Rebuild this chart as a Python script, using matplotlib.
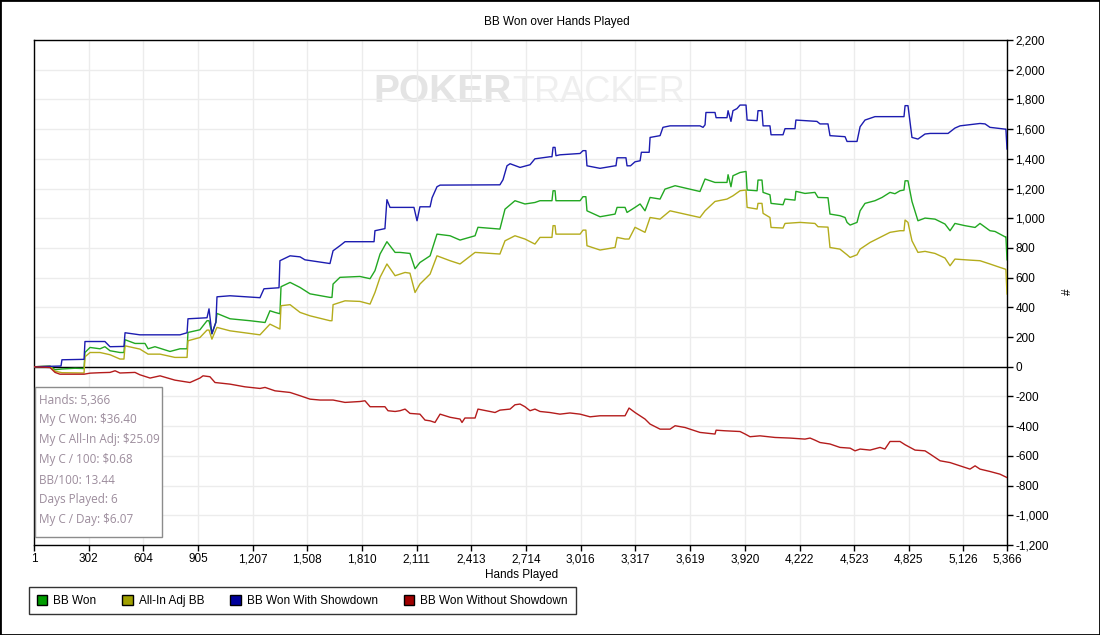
import matplotlib
matplotlib.use("Agg")
import matplotlib.pyplot as plt
from matplotlib.patches import Patch, Rectangle
from matplotlib.ticker import FuncFormatter

# Valores (manos, BB acumulados)
won_hands = [1, 89, 117, 155, 227, 277, 282, 310, 365, 392, 420, 475, 497, 503, 558, 613, 630, 668, 751, 806, 845, 850, 916, 955, 966, 982, 1004, 1010, 1082, 1192, 1275, 1302, 1330, 1357, 1363, 1413, 1468, 1523, 1633, 1644, 1650, 1688, 1798, 1854, 1881, 1909, 1947, 1992, 2019, 2074, 2102, 2129, 2185, 2223, 2295, 2350, 2433, 2449, 2570, 2598, 2653, 2708, 2763, 2791, 2857, 2863, 2874, 2879, 3012, 3028, 3044, 3050, 3122, 3205, 3216, 3260, 3271, 3315, 3343, 3370, 3398, 3453, 3480, 3536, 3673, 3701, 3756, 3822, 3828, 3844, 3855, 3894, 3927, 3933, 3988, 3993, 4015, 4021, 4059, 4065, 4131, 4142, 4197, 4202, 4252, 4307, 4324, 4379, 4390, 4445, 4473, 4484, 4501, 4539, 4556, 4583, 4638, 4677, 4721, 4748, 4776, 4798, 4804, 4820, 4842, 4875, 4914, 4969, 5024, 5052, 5079, 5134, 5190, 5217, 5272, 5300, 5327, 5355, 5360, 5366]
won_bb = [0, 5, -20, -15, -10, -12, 96, 130, 121, 135, 108, 96, 96, 182, 157, 157, 121, 135, 103, 121, 121, 231, 249, 310, 310, 222, 300, 359, 323, 310, 298, 377, 366, 357, 539, 568, 534, 491, 467, 467, 557, 602, 608, 593, 647, 759, 842, 770, 770, 763, 660, 702, 747, 893, 882, 853, 882, 939, 927, 1061, 1118, 1096, 1106, 1118, 1118, 1185, 1185, 1118, 1118, 1145, 1145, 1050, 1010, 1028, 1073, 1073, 1039, 1073, 1096, 1050, 1140, 1129, 1196, 1219, 1180, 1264, 1241, 1241, 1293, 1212, 1286, 1308, 1315, 1190, 1185, 1257, 1257, 1174, 1158, 1100, 1091, 1129, 1122, 1181, 1167, 1174, 1140, 1138, 1028, 1017, 1005, 972, 954, 972, 1050, 1100, 1118, 1140, 1174, 1165, 1185, 1190, 1252, 1252, 1113, 983, 1001, 994, 961, 916, 965, 950, 938, 965, 916, 911, 893, 875, 875, 720]

adj_hands = [1, 89, 117, 155, 277, 282, 310, 365, 420, 475, 497, 503, 585, 630, 696, 778, 845, 850, 916, 955, 966, 982, 1004, 1010, 1082, 1247, 1302, 1357, 1363, 1413, 1468, 1523, 1633, 1644, 1650, 1716, 1798, 1854, 1881, 1909, 1947, 1992, 2047, 2074, 2102, 2129, 2185, 2223, 2295, 2350, 2433, 2570, 2598, 2653, 2708, 2763, 2791, 2857, 2863, 2874, 2879, 3012, 3028, 3044, 3050, 3122, 3205, 3216, 3260, 3282, 3315, 3370, 3398, 3453, 3508, 3673, 3701, 3756, 3822, 3855, 3894, 3927, 3933, 3988, 3993, 4015, 4021, 4059, 4065, 4131, 4142, 4225, 4307, 4324, 4379, 4390, 4445, 4484, 4501, 4539, 4556, 4611, 4666, 4721, 4776, 4798, 4804, 4820, 4842, 4875, 4914, 4969, 5024, 5052, 5079, 5162, 5217, 5272, 5327, 5355, 5360, 5366]
adj_bb = [0, 3, -30, -40, -42, 67, 96, 96, 81, 52, 52, 141, 119, 85, 85, 63, 63, 175, 197, 247, 247, 186, 250, 265, 242, 215, 287, 254, 411, 418, 366, 343, 310, 310, 418, 444, 440, 422, 500, 602, 692, 613, 635, 630, 500, 557, 624, 747, 714, 692, 770, 759, 848, 882, 860, 826, 871, 871, 950, 950, 893, 893, 920, 920, 815, 786, 803, 871, 860, 860, 939, 905, 1005, 994, 1050, 1005, 1050, 1113, 1129, 1151, 1185, 1190, 1073, 1062, 1100, 1100, 1033, 1005, 938, 934, 965, 972, 965, 943, 940, 803, 792, 754, 736, 754, 792, 837, 871, 905, 916, 916, 988, 972, 848, 770, 777, 763, 732, 680, 725, 718, 714, 692, 669, 658, 655, 490]

sd_hands = [1, 150, 155, 277, 282, 392, 420, 497, 503, 585, 806, 845, 850, 955, 966, 982, 1004, 1010, 1082, 1247, 1269, 1352, 1357, 1413, 1468, 1495, 1633, 1650, 1688, 1716, 1876, 1881, 1936, 1947, 1964, 2096, 2113, 2129, 2185, 2196, 2223, 2240, 2570, 2587, 2609, 2626, 2681, 2736, 2763, 2846, 2857, 2863, 2874, 2879, 2901, 3012, 3028, 3044, 3050, 3122, 3205, 3210, 3216, 3265, 3271, 3290, 3315, 3343, 3350, 3393, 3398, 3453, 3469, 3508, 3673, 3690, 3701, 3706, 3756, 3762, 3822, 3828, 3844, 3855, 3877, 3894, 3927, 3933, 3988, 3993, 4015, 4021, 4059, 4065, 4131, 4142, 4197, 4202, 4318, 4335, 4379, 4390, 4473, 4484, 4539, 4556, 4583, 4638, 4798, 4804, 4820, 4842, 4875, 4914, 4942, 5041, 5079, 5107, 5217, 5245, 5272, 5355, 5360, 5366]
sd_bb = [0, 5, 47, 50, 170, 170, 135, 137, 229, 215, 215, 229, 323, 330, 390, 222, 300, 471, 478, 465, 525, 532, 714, 747, 740, 720, 695, 781, 815, 842, 842, 916, 930, 1125, 1073, 1073, 983, 1077, 1077, 1138, 1212, 1223, 1225, 1259, 1353, 1367, 1342, 1360, 1400, 1414, 1414, 1477, 1477, 1421, 1427, 1436, 1455, 1455, 1353, 1336, 1353, 1353, 1407, 1407, 1353, 1353, 1380, 1387, 1444, 1444, 1544, 1556, 1612, 1622, 1622, 1612, 1629, 1712, 1712, 1677, 1677, 1724, 1652, 1724, 1738, 1762, 1762, 1661, 1657, 1724, 1724, 1622, 1622, 1562, 1562, 1603, 1603, 1661, 1652, 1635, 1635, 1556, 1549, 1517, 1517, 1616, 1661, 1684, 1684, 1758, 1758, 1544, 1533, 1567, 1571, 1571, 1607, 1622, 1638, 1635, 1612, 1600, 1600, 1466]

nsd_hands = [1, 89, 117, 144, 277, 310, 365, 420, 448, 475, 558, 585, 641, 696, 778, 861, 916, 933, 971, 999, 1082, 1164, 1247, 1275, 1330, 1413, 1468, 1523, 1578, 1650, 1716, 1798, 1826, 1854, 1936, 1953, 1992, 2019, 2047, 2074, 2129, 2157, 2185, 2212, 2240, 2295, 2350, 2361, 2377, 2433, 2449, 2515, 2543, 2570, 2626, 2653, 2681, 2708, 2736, 2763, 2791, 2846, 2901, 2956, 3012, 3067, 3122, 3260, 3282, 3315, 3370, 3398, 3453, 3508, 3536, 3591, 3618, 3673, 3756, 3762, 3811, 3894, 3922, 3949, 4004, 4087, 4169, 4252, 4280, 4307, 4335, 4390, 4445, 4501, 4528, 4556, 4611, 4666, 4693, 4721, 4776, 4804, 4859, 4914, 4942, 4997, 5052, 5107, 5162, 5190, 5217, 5272, 5327, 5366]
nsd_bb = [0, -5, -38, -50, -50, -43, -40, -38, -27, -42, -38, -54, -76, -61, -90, -106, -76, -61, -67, -106, -117, -135, -146, -139, -162, -173, -195, -218, -224, -224, -240, -234, -229, -269, -269, -296, -301, -296, -285, -314, -319, -359, -364, -375, -319, -340, -352, -375, -345, -345, -285, -301, -308, -292, -285, -256, -251, -269, -296, -285, -301, -308, -319, -311, -319, -337, -330, -330, -278, -308, -352, -386, -420, -420, -397, -409, -420, -442, -453, -427, -431, -436, -453, -471, -465, -476, -480, -487, -480, -494, -510, -520, -543, -548, -566, -554, -561, -543, -554, -503, -503, -525, -561, -566, -588, -633, -645, -667, -689, -667, -689, -705, -723, -746]

x_ticks = [1, 302, 604, 905, 1207, 1508, 1810, 2111, 2413, 2714, 3016, 3317, 3619, 3920, 4222, 4523, 4825, 5126, 5366]
y_ticks = list(range(-1200, 2201, 200))

stats_lines = ["Hands: 5,366", "My C Won: $36.40", "My C All-In Adj: $25.09", "My C / 100: $0.68",
               "BB/100: 13.44", "Days Played: 6", "My C / Day: $6.07"]

series_labels = ["BB Won", "All-In Adj BB", "BB Won With Showdown", "BB Won Without Showdown"]
line_colors = ["#22a822", "#b4ac1c", "#1c1cb0", "#b41c1c"]
swatch_colors = ["#009c00", "#a0a000", "#00009c", "#a00000"]

plt.rcParams['font.family'] = ['Liberation Sans', 'DejaVu Sans']

W, H = 1100, 635
fig = plt.figure(figsize=(W / 100, H / 100), dpi=100)
ax = fig.add_axes([34 / W, 1 - 545 / H, (1007 - 34) / W, (545 - 40) / H])

ax.grid(True, color="#ececec", linewidth=1)
ax.set_axisbelow(True)

# marca de agua
poker = ax.text(0.349, 0.897, "POKER", transform=ax.transAxes, fontsize=28, fontweight="bold",
                color="#e4e4e4", ha="left", va="center", zorder=0)
ax.annotate("TRACKER", xy=(1, 0.5), xycoords=poker, fontsize=26, color="#efefef",
            ha="left", va="center", zorder=0)

ax.axhline(0, color="black", linewidth=1, zorder=2)

ax.plot(won_hands, won_bb, color=line_colors[0], linewidth=1, zorder=3)
ax.plot(adj_hands, adj_bb, color=line_colors[1], linewidth=1, zorder=3)
ax.plot(sd_hands, sd_bb, color=line_colors[2], linewidth=1, zorder=3)
ax.plot(nsd_hands, nsd_bb, color=line_colors[3], linewidth=1, zorder=3)

ax.set_xlim(1, 5366)
ax.set_ylim(-1200, 2200)
ax.set_xticks(x_ticks)
ax.set_yticks(y_ticks)
fmt = FuncFormatter(lambda v, p: f"{int(v):,}")
ax.xaxis.set_major_formatter(fmt)
ax.yaxis.set_major_formatter(fmt)
ax.yaxis.tick_right()
ax.tick_params(axis="both", labelsize=8.5, length=4, width=1, color="black", direction="out", pad=2)
for s in ax.spines.values():
    s.set_color("black")
    s.set_linewidth(1)

# cuadro de estadisticas
ax.add_patch(Rectangle((35 / W, 1 - 537 / H), 127 / W, 150 / H, transform=fig.transFigure,
                       facecolor="white", edgecolor="#8c8c8c", linewidth=1, zorder=5))
for i, line in enumerate(stats_lines):
    fig.text(39 / W, 1 - (400 + 20 * i) / H, line, fontsize=8.5, color="#9c8c9c",
             ha="left", va="center", family=["Open Sans", "DejaVu Sans"], zorder=6)

fig.text(557 / W, 1 - 22 / H, "BB Won over Hands Played", fontsize=8.5, ha="center", va="center")
fig.text(522 / W, 1 - 575 / H, "Hands Played", fontsize=8.5, ha="center", va="center")
fig.text(1068 / W, 1 - 292 / H, "#", fontsize=8.5, ha="center", va="center", rotation=90)

handles = [Patch(facecolor=c, edgecolor="black", linewidth=1) for c in swatch_colors]
fig.legend(handles, series_labels, loc="upper left", bbox_to_anchor=(29 / W, 1 - 587 / H),
           ncol=4, fontsize=8.5, frameon=True, fancybox=False, edgecolor="black",
           handlelength=0.9, handleheight=0.9, handletextpad=0.5, columnspacing=2.2,
           borderpad=0.65, borderaxespad=0)

fig.patches.append(Rectangle((0, 0), 1, 1, transform=fig.transFigure, fill=False,
                             edgecolor="black", linewidth=2))

fig.savefig("out.png", dpi=100)
